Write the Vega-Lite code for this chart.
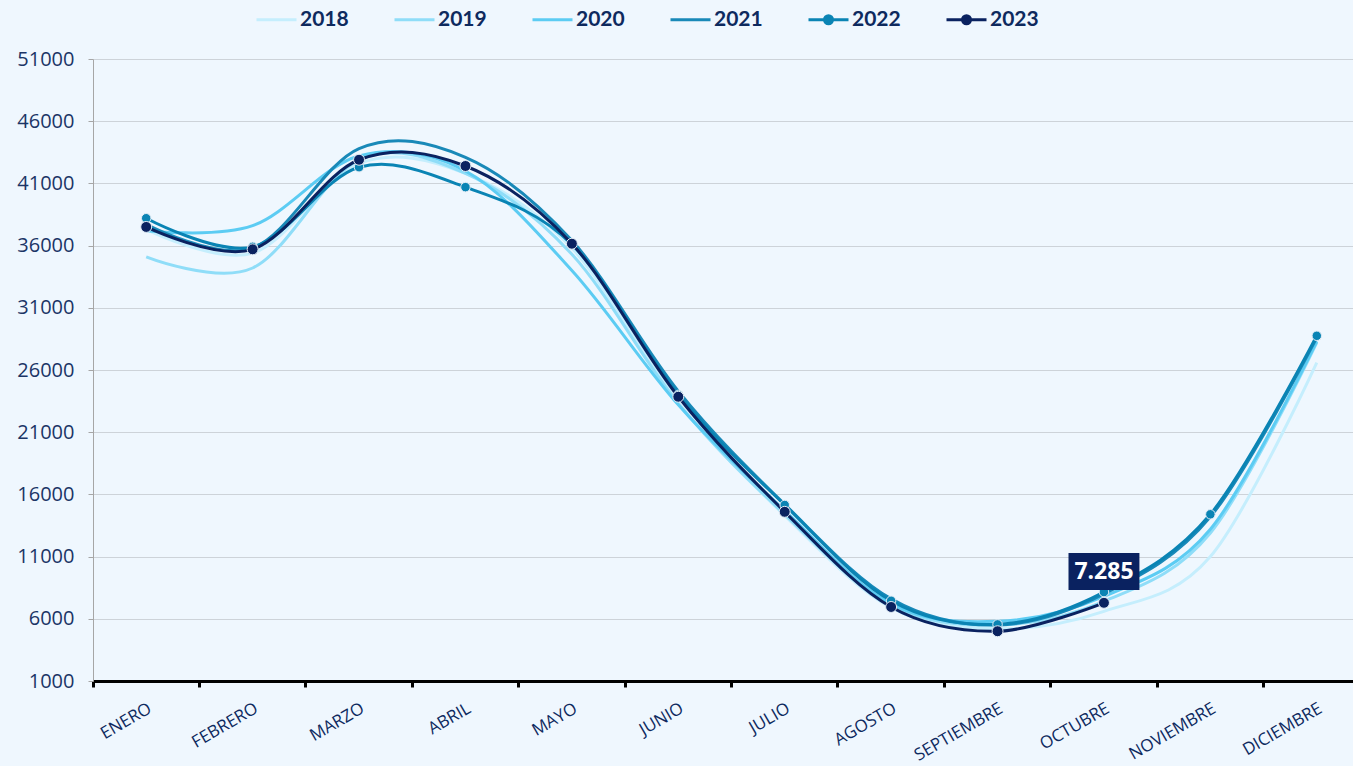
{
  "$schema": "https://vega.github.io/schema/vega-lite/v6.json",
  "width": 1260,
  "height": 622,
  "autosize": "none",
  "padding": {"left": 93, "top": 59, "right": 0, "bottom": 85},
  "background": "#EFF7FE",
  "config": {
    "view": {"stroke": null},
    "font": "Open Sans",
    "locale": {"number": {"decimal": ",", "thousands": ".", "grouping": [3], "currency": ["", " €"]}}
  },
  "data": {
    "values": [
      {"m": "ENERO", "y": "2018", "v": 37300}, {"m": "FEBRERO", "y": "2018", "v": 35400}, {"m": "MARZO", "y": "2018", "v": 42600}, {"m": "ABRIL", "y": "2018", "v": 41800}, {"m": "MAYO", "y": "2018", "v": 35800}, {"m": "JUNIO", "y": "2018", "v": 23400}, {"m": "JULIO", "y": "2018", "v": 14300}, {"m": "AGOSTO", "y": "2018", "v": 6900}, {"m": "SEPTIEMBRE", "y": "2018", "v": 5200}, {"m": "OCTUBRE", "y": "2018", "v": 6600}, {"m": "NOVIEMBRE", "y": "2018", "v": 11000}, {"m": "DICIEMBRE", "y": "2018", "v": 26600},
      {"m": "ENERO", "y": "2019", "v": 35100}, {"m": "FEBRERO", "y": "2019", "v": 34200}, {"m": "MARZO", "y": "2019", "v": 42900}, {"m": "ABRIL", "y": "2019", "v": 41800}, {"m": "MAYO", "y": "2019", "v": 35300}, {"m": "JUNIO", "y": "2019", "v": 23300}, {"m": "JULIO", "y": "2019", "v": 14400}, {"m": "AGOSTO", "y": "2019", "v": 7100}, {"m": "SEPTIEMBRE", "y": "2019", "v": 5500}, {"m": "OCTUBRE", "y": "2019", "v": 7400}, {"m": "NOVIEMBRE", "y": "2019", "v": 12900}, {"m": "DICIEMBRE", "y": "2019", "v": 28200},
      {"m": "ENERO", "y": "2020", "v": 37200}, {"m": "FEBRERO", "y": "2020", "v": 37600}, {"m": "MARZO", "y": "2020", "v": 43200}, {"m": "ABRIL", "y": "2020", "v": 42000}, {"m": "MAYO", "y": "2020", "v": 34000}, {"m": "JUNIO", "y": "2020", "v": 23200}, {"m": "JULIO", "y": "2020", "v": 14700}, {"m": "AGOSTO", "y": "2020", "v": 7200}, {"m": "SEPTIEMBRE", "y": "2020", "v": 5800}, {"m": "OCTUBRE", "y": "2020", "v": 7800}, {"m": "NOVIEMBRE", "y": "2020", "v": 13200}, {"m": "DICIEMBRE", "y": "2020", "v": 28300},
      {"m": "ENERO", "y": "2021", "v": 37700}, {"m": "FEBRERO", "y": "2021", "v": 35800}, {"m": "MARZO", "y": "2021", "v": 43800}, {"m": "ABRIL", "y": "2021", "v": 43100}, {"m": "MAYO", "y": "2021", "v": 36400}, {"m": "JUNIO", "y": "2021", "v": 24300}, {"m": "JULIO", "y": "2021", "v": 15200}, {"m": "AGOSTO", "y": "2021", "v": 7600}, {"m": "SEPTIEMBRE", "y": "2021", "v": 5500}, {"m": "OCTUBRE", "y": "2021", "v": 8000}, {"m": "NOVIEMBRE", "y": "2021", "v": 14200}, {"m": "DICIEMBRE", "y": "2021", "v": 28600},
      {"m": "ENERO", "y": "2022", "v": 38200}, {"m": "FEBRERO", "y": "2022", "v": 35900}, {"m": "MARZO", "y": "2022", "v": 42300}, {"m": "ABRIL", "y": "2022", "v": 40700}, {"m": "MAYO", "y": "2022", "v": 36100}, {"m": "JUNIO", "y": "2022", "v": 24000}, {"m": "JULIO", "y": "2022", "v": 15150}, {"m": "AGOSTO", "y": "2022", "v": 7450}, {"m": "SEPTIEMBRE", "y": "2022", "v": 5550}, {"m": "OCTUBRE", "y": "2022", "v": 8150}, {"m": "NOVIEMBRE", "y": "2022", "v": 14400}, {"m": "DICIEMBRE", "y": "2022", "v": 28750},
      {"m": "ENERO", "y": "2023", "v": 37500}, {"m": "FEBRERO", "y": "2023", "v": 35700}, {"m": "MARZO", "y": "2023", "v": 42900}, {"m": "ABRIL", "y": "2023", "v": 42400}, {"m": "MAYO", "y": "2023", "v": 36150}, {"m": "JUNIO", "y": "2023", "v": 23850}, {"m": "JULIO", "y": "2023", "v": 14600}, {"m": "AGOSTO", "y": "2023", "v": 6950}, {"m": "SEPTIEMBRE", "y": "2023", "v": 5000}, {"m": "OCTUBRE", "y": "2023", "v": 7285}
    ]
  },
  "encoding": {
    "x": {
      "field": "m",
      "type": "ordinal",
      "bandPosition": 0.5,
      "sort": ["ENERO", "FEBRERO", "MARZO", "ABRIL", "MAYO", "JUNIO", "JULIO", "AGOSTO", "SEPTIEMBRE", "OCTUBRE", "NOVIEMBRE", "DICIEMBRE"],
      "scale": {"type": "band", "range": [0, 1277], "paddingInner": 0, "paddingOuter": 0},
      "axis": {
        "title": null,
        "bandPosition": 0,
        "labelAngle": -30,
        "domainColor": "#000000",
        "domainWidth": 3,
        "tickColor": "#000000",
        "tickWidth": 3,
        "tickSize": 6,
        "labelFont": "Open Sans",
        "labelFontSize": 17,
        "labelColor": "#0E2A5E",
        "labelPadding": 13,
        "grid": false
      }
    },
    "y": {
      "field": "v",
      "type": "quantitative",
      "scale": {"domain": [1000, 51000], "nice": false, "zero": false},
      "axis": {
        "title": null,
        "values": [1000, 6000, 11000, 16000, 21000, 26000, 31000, 36000, 41000, 46000, 51000],
        "format": "d",
        "domainColor": "#A6A6A6",
        "tickColor": "#A6A6A6",
        "tickSize": 5,
        "gridColor": "#CDD3D9",
        "labelFont": "Open Sans",
        "labelFontSize": 20,
        "labelColor": "#1B3566",
        "labelPadding": 14
      }
    }
  },
  "layer": [
    {
      "mark": {"type": "line", "interpolate": "cardinal"},
      "encoding": {
        "color": {
          "field": "y",
          "type": "nominal",
          "scale": {"domain": ["2018", "2019", "2020", "2021", "2022", "2023"], "range": ["#C5EEFD", "#8FDDF8", "#5CCCF3", "#1989B8", "#0A84B4", "#0A2260"]},
          "legend": {
            "orient": "none",
            "legendX": 162,
            "legendY": -61,
            "direction": "horizontal",
            "columns": 6,
            "title": null,
            "symbolSize": 1600,
            "labelFont": "Lato",
            "labelFontWeight": "bold",
            "labelFontSize": 21,
            "labelColor": "#0E2A5E",
            "labelOffset": 2,
            "columnPadding": 39,
            "encode": {
              "symbols": {
                "update": {
                  "shape": {"signal": "(datum.value == '2022' || datum.value == '2023') ? 'M-1,0L1,0M-0.2,0A0.2,0.2,0,1,1,0.2,0A0.2,0.2,0,1,1,-0.2,0Z' : 'M-1,0L1,0'"},
                  "fill": {"signal": "scale('color', datum.value)"},
                  "stroke": {"signal": "scale('color', datum.value)"},
                  "strokeWidth": {"value": 4},
                  "opacity": {"value": 1},
                  "fillOpacity": {"value": 1}
                }
              }
            }
          }
        },
        "strokeWidth": {
          "field": "y",
          "type": "nominal",
          "scale": {"domain": ["2018", "2019", "2020", "2021", "2022", "2023"], "range": [3, 3, 3, 4, 4, 3.5]},
          "legend": null
        }
      }
    },
    {
      "transform": [{"filter": "datum.y == '2022' || datum.y == '2023'"}],
      "mark": {"type": "point", "filled": true, "opacity": 1, "stroke": "#E3EDF6", "strokeWidth": 1},
      "encoding": {
        "color": {"field": "y", "type": "nominal", "legend": null},
        "size": {"field": "y", "type": "nominal", "scale": {"domain": ["2022", "2023"], "range": [90, 120]}, "legend": null}
      }
    },
    {
      "transform": [{"filter": "datum.y == '2023' && datum.m == 'OCTUBRE'"}],
      "mark": {"type": "point", "filled": true, "opacity": 1, "fill": "#0A2260", "strokeWidth": 0, "size": 1296, "shape": "M-1.97,-2.77L1.97,-2.77L1.97,-0.71L-1.97,-0.71Z"}
    },
    {
      "transform": [{"filter": "datum.y == '2023' && datum.m == 'OCTUBRE'"}],
      "mark": {"type": "text", "font": "Open Sans", "fontWeight": "bold", "fontSize": 23, "color": "#FFFFFF", "dy": -31, "align": "center", "baseline": "middle"},
      "encoding": {"text": {"field": "v", "type": "quantitative", "format": ",.0f"}}
    }
  ]
}
